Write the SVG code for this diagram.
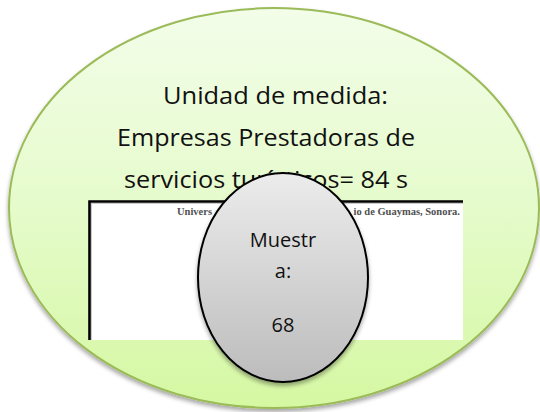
<svg xmlns="http://www.w3.org/2000/svg" width="540" height="412" viewBox="0 0 540 412">
  <defs>
    <linearGradient id="gGreen" x1="0" y1="0" x2="0" y2="1">
      <stop offset="0" stop-color="#f3fde9"/>
      <stop offset="0.5" stop-color="#e5fbcb"/>
      <stop offset="1" stop-color="#d5f8a2"/>
    </linearGradient>
    <linearGradient id="gGray" x1="0" y1="0" x2="0" y2="1">
      <stop offset="0" stop-color="#ececec"/>
      <stop offset="1" stop-color="#bcbcbc"/>
    </linearGradient>
    <filter id="shadow" x="-10%" y="-10%" width="120%" height="125%">
      <feDropShadow dx="0" dy="3" stdDeviation="2" flood-color="#000" flood-opacity="0.35"/>
    </filter>
  </defs>
  <style>
    .big { font-family: "Open Sans", "Noto Sans", "Liberation Sans", sans-serif; font-size: 24px; fill: #111; }
    .mid { font-family: "Open Sans", "Noto Sans", "Liberation Sans", sans-serif; font-size: 20px; fill: #111; text-anchor: middle; }
    .doc { font-family: "Liberation Serif", "DejaVu Serif", serif; font-size: 10.5px; font-weight: bold; fill: #505050; }
  </style>

  <g id="unidad">
    <ellipse cx="274" cy="208" rx="265" ry="200" fill="url(#gGreen)" stroke="#9bbb59" stroke-width="2" filter="url(#shadow)"/>
    <text class="big" x="163" y="104" textLength="225" lengthAdjust="spacingAndGlyphs">Unidad de medida:</text>
    <text class="big" x="117" y="146" textLength="298" lengthAdjust="spacingAndGlyphs">Empresas Prestadoras de</text>
    <text class="big" x="124" y="188" textLength="284" lengthAdjust="spacingAndGlyphs">servicios turísticos= 84 s</text>
  </g>

  <g id="documento">
    <rect x="89" y="202" width="374" height="138" fill="#ffffff"/>
    <path d="M89.5,340 V201.5 H463" fill="none" stroke="#000" stroke-width="2.6"/>
    <path d="M91.5,340 V203.5 H463" fill="none" stroke="#bbb" stroke-width="0.8"/>
    <text class="doc" x="177" y="215">Univers</text>
    <text class="doc" x="460" y="215" text-anchor="end">io de Guaymas, Sonora.</text>
  </g>

  <g id="muestra">
    <ellipse cx="283" cy="277.5" rx="85" ry="104.5" fill="url(#gGray)" stroke="#000" stroke-width="2" filter="url(#shadow)"/>
    <text class="mid" x="283" y="247">Muestr</text>
    <text class="mid" x="283" y="278">a:</text>
    <text class="mid" x="283" y="332">68</text>
  </g>

  <g id="connectors"/>
</svg>
